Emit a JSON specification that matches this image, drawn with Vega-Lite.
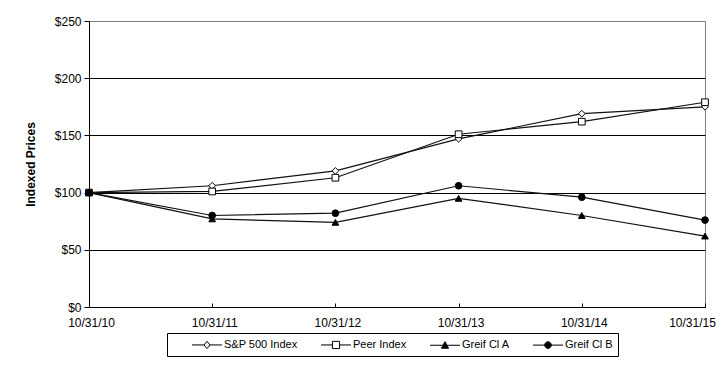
{
  "$schema": "https://vega.github.io/schema/vega-lite/v6.json",
  "width": 616,
  "height": 286,
  "autosize": "none",
  "padding": {"left": 89, "top": 21, "right": 22, "bottom": 61},
  "background": "white",
  "config": {
    "font": "Liberation Sans",
    "view": {"stroke": "#808080", "strokeWidth": 1}
  },
  "data": {
    "values": [
      {"date": "10/31/10", "series": "S&P 500 Index", "value": 100},
      {"date": "10/31/11", "series": "S&P 500 Index", "value": 106},
      {"date": "10/31/12", "series": "S&P 500 Index", "value": 119},
      {"date": "10/31/13", "series": "S&P 500 Index", "value": 147},
      {"date": "10/31/14", "series": "S&P 500 Index", "value": 169},
      {"date": "10/31/15", "series": "S&P 500 Index", "value": 175},
      {"date": "10/31/10", "series": "Peer Index", "value": 100},
      {"date": "10/31/11", "series": "Peer Index", "value": 101},
      {"date": "10/31/12", "series": "Peer Index", "value": 113},
      {"date": "10/31/13", "series": "Peer Index", "value": 151},
      {"date": "10/31/14", "series": "Peer Index", "value": 162},
      {"date": "10/31/15", "series": "Peer Index", "value": 179},
      {"date": "10/31/10", "series": "Greif Cl A", "value": 100},
      {"date": "10/31/11", "series": "Greif Cl A", "value": 77},
      {"date": "10/31/12", "series": "Greif Cl A", "value": 74},
      {"date": "10/31/13", "series": "Greif Cl A", "value": 95},
      {"date": "10/31/14", "series": "Greif Cl A", "value": 80},
      {"date": "10/31/15", "series": "Greif Cl A", "value": 62},
      {"date": "10/31/10", "series": "Greif Cl B", "value": 100},
      {"date": "10/31/11", "series": "Greif Cl B", "value": 80},
      {"date": "10/31/12", "series": "Greif Cl B", "value": 82},
      {"date": "10/31/13", "series": "Greif Cl B", "value": 106},
      {"date": "10/31/14", "series": "Greif Cl B", "value": 96},
      {"date": "10/31/15", "series": "Greif Cl B", "value": 76}
    ]
  },
  "encoding": {
    "x": {
      "field": "date",
      "type": "ordinal",
      "sort": null,
      "scale": {"type": "point", "padding": 0},
      "axis": {
        "title": null,
        "labelAngle": 0,
        "labelFontSize": 12,
        "labelColor": "black",
        "labelPadding": 14,
        "labelOffset": {"condition": {"test": "datum.value === '10/31/15'", "value": -13}, "value": 2},
        "tickSize": -4,
        "tickColor": "black",
        "domainColor": "black",
        "grid": false
      }
    },
    "y": {
      "field": "value",
      "type": "quantitative",
      "scale": {"domain": [0, 250], "nice": false, "zero": true},
      "axis": {
        "values": [0, 50, 100, 150, 200, 250],
        "labelExpr": "'$' + datum.value",
        "title": "Indexed Prices",
        "titleFontSize": 12,
        "titleFontWeight": "bold",
        "titleColor": "black",
        "titlePadding": 17,
        "labelFontSize": 12,
        "labelColor": "black",
        "labelPadding": 3,
        "tickSize": 5,
        "tickColor": "black",
        "domainColor": "black",
        "grid": true,
        "gridColor": {"condition": {"test": "datum.value === 250", "value": "#808080"}, "value": "black"},
        "gridOpacity": 1
      }
    }
  },
  "layer": [
    {
      "mark": {"type": "line", "color": "#111111", "strokeWidth": 1.2},
      "encoding": {"detail": {"field": "series"}}
    },
    {
      "mark": {"type": "point", "filled": true, "stroke": "black", "strokeWidth": 1, "size": 45, "opacity": 1},
      "encoding": {
        "shape": {
          "field": "series",
          "scale": {
            "domain": ["S&P 500 Index", "Peer Index", "Greif Cl A", "Greif Cl B"],
            "range": ["diamond", "square", "triangle-up", "circle"]
          },
          "legend": null
        },
        "fill": {
          "field": "series",
          "scale": {
            "domain": ["S&P 500 Index", "Peer Index", "Greif Cl A", "Greif Cl B"],
            "range": ["white", "white", "black", "black"]
          },
          "legend": null
        }
      }
    },
    {
      "mark": {"type": "point", "filled": true, "stroke": "black", "strokeWidth": 1, "size": 144, "opacity": 0},
      "encoding": {
        "shape": {
          "field": "series",
          "scale": {
            "domain": ["S&P 500 Index", "Peer Index", "Greif Cl A", "Greif Cl B"],
            "range": [
              "M2.25,0H4.25M5.25,0H7.25M4.25,0L4.75,-0.6L5.25,0L4.75,0.6Z",
              "M2.25,0H4.15M5.35,0H7.25M4.15,-0.6H5.35V0.6H4.15Z",
              "M2.25,0H7.25M4.15,0.5L4.75,-0.6L5.35,0.5Z",
              "M2.25,0H7.25M4.2,0A0.55,0.55 0 1,0 5.3,0A0.55,0.55 0 1,0 4.2,0Z"
            ]
          },
          "legend": {
            "orient": "none",
            "legendX": 78,
            "legendY": 312,
            "direction": "horizontal",
            "columns": 4,
            "title": null,
            "strokeColor": "black",
            "fillColor": "white",
            "padding": 5,
            "labelFontSize": 11,
            "labelColor": "black",
            "labelOffset": 39,
            "columnPadding": 3,
            "symbolOpacity": 1,
            "symbolStrokeColor": "black",
            "symbolStrokeWidth": 1,
            "symbolSize": 144,
            "labelExpr": "datum.label == 'Greif Cl B' ? datum.label + '\u00a0\u00a0\u00a0\u00a0\u00a0' : datum.label",
            "encode": {"symbols": {"update": {"opacity": {"value": 1}, "strokeOpacity": {"value": 1}, "fillOpacity": {"value": 1}, "stroke": {"value": "black"}}}}
          }
        },
        "fill": {
          "field": "series",
          "scale": {
            "domain": ["S&P 500 Index", "Peer Index", "Greif Cl A", "Greif Cl B"],
            "range": ["white", "white", "black", "black"]
          },
          "legend": {
            "orient": "none",
            "legendX": 78,
            "legendY": 312,
            "direction": "horizontal",
            "columns": 4,
            "title": null,
            "strokeColor": "black",
            "fillColor": "white",
            "padding": 5,
            "labelFontSize": 11,
            "labelColor": "black",
            "labelOffset": 39,
            "columnPadding": 3,
            "symbolOpacity": 1,
            "symbolStrokeColor": "black",
            "symbolStrokeWidth": 1,
            "symbolSize": 144,
            "labelExpr": "datum.label == 'Greif Cl B' ? datum.label + '\u00a0\u00a0\u00a0\u00a0\u00a0' : datum.label",
            "encode": {"symbols": {"update": {"opacity": {"value": 1}, "strokeOpacity": {"value": 1}, "fillOpacity": {"value": 1}, "stroke": {"value": "black"}}}}
          }
        }
      }
    }
  ],
  "resolve": {"scale": {"shape": "independent", "fill": "independent"}}
}
